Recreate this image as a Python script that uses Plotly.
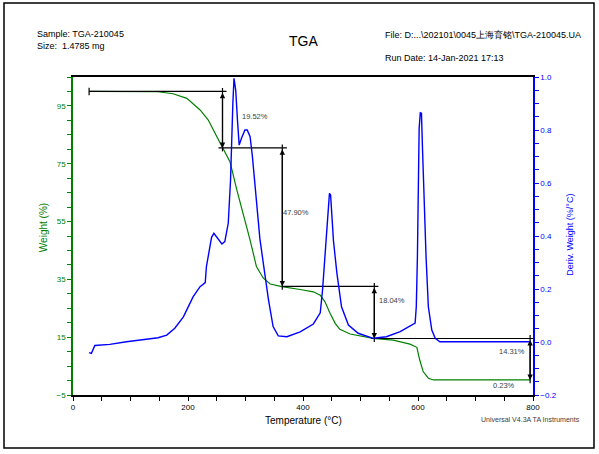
import plotly.graph_objects as go

# TGA weight curve (green, left axis)
temp_tga = [30, 60, 100, 148, 174, 198, 221, 235, 250, 261, 273, 285, 296, 308, 319,
            331, 343, 363, 395, 418, 430, 438, 447, 456, 464, 482, 522, 557, 586, 598,
            603, 609, 618, 627, 700, 795]
weight = [100.0, 100.0, 100.0, 99.9, 99.2, 97.6, 93.6, 90.2, 84.4, 80.4, 75.7, 65.9, 57.8,
          48.6, 39.4, 35.4, 33.4, 32.5, 31.5, 30.7, 29.5, 27.3, 23.3, 19.8, 17.7, 16.1,
          14.6, 14.0, 12.6, 11.5, 7.1, 3.1, 0.8, 0.2, 0.2, 0.2]

# derivative curve (blue, right axis)
temp_dtg = [28, 32, 38, 64, 93, 122, 148, 163, 177, 192, 209, 221, 230, 232, 238, 241, 245,
            250, 259, 264, 270, 274, 276, 278, 280, 283, 286, 289, 293, 299, 303, 308, 312,
            319, 325, 331, 340, 348, 357, 372, 395, 418, 430, 434, 438, 441, 443, 446, 448,
            450, 453, 459, 467, 479, 496, 522, 545, 569, 586, 595, 597, 599, 601, 602, 604,
            606, 608, 610, 612, 614, 618, 624, 630, 638, 700, 795]
deriv = [-0.040, -0.043, -0.013, -0.009, 0.001, 0.010, 0.016, 0.026, 0.052, 0.095, 0.171,
         0.209, 0.224, 0.284, 0.360, 0.395, 0.410, 0.397, 0.370, 0.379, 0.448, 0.611, 0.775,
         0.900, 0.995, 0.950, 0.838, 0.743, 0.769, 0.800, 0.800, 0.775, 0.700, 0.548, 0.390,
         0.297, 0.159, 0.058, 0.023, 0.020, 0.038, 0.068, 0.110, 0.196, 0.322, 0.385, 0.486,
         0.561, 0.555, 0.486, 0.382, 0.259, 0.133, 0.064, 0.033, 0.014, 0.020, 0.039, 0.060,
         0.071, 0.133, 0.322, 0.649, 0.806, 0.865, 0.863, 0.718, 0.580, 0.435, 0.322, 0.133,
         0.045, 0.014, 0.001, 0.001, 0.001]

# step analysis
start_weight = 100.0
step_losses = [19.52, 47.90, 18.04, 14.31]
residue = 0.23
step_temps = [260, 364, 524, 795]
line_start = [28, 253, 363, 519]
line_end = [267, 372, 531, 800]

levels = [start_weight]
for loss in step_losses:
    levels.append(round(levels[-1] - loss, 2))

FONT = "Liberation Sans, Arial, sans-serif"
GREEN = "#008000"
BLUE = "#0000ff"

fig = go.Figure()
fig.add_trace(go.Scatter(x=temp_tga, y=weight, mode="lines", line=dict(color=GREEN, width=1.2),
                         yaxis="y", showlegend=False))
fig.add_trace(go.Scatter(x=temp_dtg, y=deriv, mode="lines", line=dict(color=BLUE, width=1.4),
                         yaxis="y2", showlegend=False))

# horizontal level lines
for i in range(len(line_start)):
    fig.add_trace(go.Scatter(x=[line_start[i], line_end[i]], y=[levels[i], levels[i]], mode="lines",
                             line=dict(color="black", width=1.2), showlegend=False))
# end tick on the first line
fig.add_trace(go.Scatter(x=[line_start[0], line_start[0]], y=[levels[0] - 1.3, levels[0] + 1.3],
                         mode="lines", line=dict(color="black", width=1.2), showlegend=False))

annotations = []
for i, t in enumerate(step_temps):
    top, bot = levels[i], levels[i + 1]
    fig.add_trace(go.Scatter(x=[t, t], y=[top + 1.2, bot - 1.2], mode="lines",
                             line=dict(color="black", width=1.2), showlegend=False))
    annotations.append(dict(x=t, y=bot, ax=t, ay=top, xref="x", yref="y", axref="x", ayref="y",
                            showarrow=True, arrowside="end+start", arrowhead=2, startarrowhead=2,
                            arrowsize=0.9, startarrowsize=0.9, arrowwidth=1.2, arrowcolor="black",
                            standoff=0, startstandoff=0, text=""))

label_pos = [(317, 91.5), (388, 58.0), (555, 27.6), (763, 10.0)]
for loss, (lx, ly) in zip(step_losses, label_pos):
    annotations.append(dict(x=lx, y=ly, xref="x", yref="y", text=f"{loss:.2f}%", showarrow=False,
                            font=dict(family=FONT, size=7.5, color="#404040")))
annotations.append(dict(x=750, y=-1.8, xref="x", yref="y", text=f"{residue:.2f}%", showarrow=False,
                        font=dict(family=FONT, size=7.5, color="#404040")))

hdr = dict(family=FONT, size=9, color="black")
annotations += [
    dict(x=-0.083, y=1.135, xref="paper", yref="paper", text="Sample: TGA-210045",
         xanchor="left", yanchor="middle", showarrow=False, font=hdr),
    dict(x=-0.083, y=1.097, xref="paper", yref="paper", text="Size:  1.4785 mg",
         xanchor="left", yanchor="middle", showarrow=False, font=hdr),
    dict(x=0.502, y=1.113, xref="paper", yref="paper", text="TGA",
         xanchor="center", yanchor="middle", showarrow=False, font=dict(family=FONT, size=14, color="black")),
    dict(x=0.674, y=1.132, xref="paper", yref="paper", text="File: D:...\\202101\\0045上海育铭\\TGA-210045.UA",
         xanchor="left", yanchor="middle", showarrow=False, font=hdr),
    dict(x=0.674, y=1.060, xref="paper", yref="paper", text="Run Date: 14-Jan-2021 17:13",
         xanchor="left", yanchor="middle", showarrow=False, font=hdr),
    dict(x=0.5, y=-0.079, xref="paper", yref="paper", text="Temperature (°C)",
         xanchor="center", yanchor="middle", showarrow=False, font=dict(family=FONT, size=10, color="black")),
    dict(x=-0.065, y=0.525, xref="paper", yref="paper", text="Weight (%)", textangle=-90,
         xanchor="center", yanchor="middle", showarrow=False, font=dict(family=FONT, size=10, color=GREEN)),
    dict(x=1.080, y=0.503, xref="paper", yref="paper", text="Deriv. Weight (%/°C)", textangle=-90,
         xanchor="center", yanchor="middle", showarrow=False, font=dict(family=FONT, size=9, color=BLUE)),
    dict(x=0.9935, y=-0.0755, xref="paper", yref="paper", text="Universal V4.3A TA Instruments",
         xanchor="center", yanchor="middle", showarrow=False, font=dict(family=FONT, size=7, color="#404040")),
]

fig.update_layout(
    width=599, height=454,
    margin=dict(l=73, r=66, t=77, b=59),
    paper_bgcolor="white", plot_bgcolor="white",
    font=dict(family=FONT, size=8, color="black"),
    xaxis=dict(range=[0, 800], tick0=0, dtick=200, showgrid=False, zeroline=False,
               showline=True, linecolor="black", linewidth=1.5, mirror=True,
               ticks="outside", ticklen=4, tickcolor="black",
               minor=dict(dtick=50, ticks="outside", ticklen=4, tickcolor="black"),
               tickfont=dict(family=FONT, size=8, color="black")),
    yaxis=dict(range=[-5, 105], tick0=-5, dtick=20, showgrid=False, zeroline=False,
               showline=True, linecolor=GREEN, linewidth=1.5,
               ticks="outside", ticklen=4, tickcolor=GREEN,
               minor=dict(dtick=5, tick0=-5, ticks="outside", ticklen=4, tickcolor=GREEN),
               tickfont=dict(family=FONT, size=8, color=GREEN)),
    yaxis2=dict(range=[-0.2, 1.0], tick0=-0.2, dtick=0.2, overlaying="y", side="right",
                showgrid=False, zeroline=False, tickformat=".1f",
                showline=True, linecolor=BLUE, linewidth=1.5,
                ticks="outside", ticklen=4, tickcolor=BLUE,
                minor=dict(dtick=0.05, ticks="outside", ticklen=4, tickcolor=BLUE),
                tickfont=dict(family=FONT, size=8, color=BLUE)),
    annotations=annotations,
    shapes=[dict(type="rect", xref="paper", yref="paper", x0=-0.15, x1=1.1326, y0=-0.1667, y1=1.2327,
                 line=dict(color="black", width=1.5))],
)

# the page body has an 8px default margin; drop it so the figure sits at the window corner
fig.write_html("out.html", config={"displayModeBar": False},
               post_script="document.body.style.margin = '0px';")
